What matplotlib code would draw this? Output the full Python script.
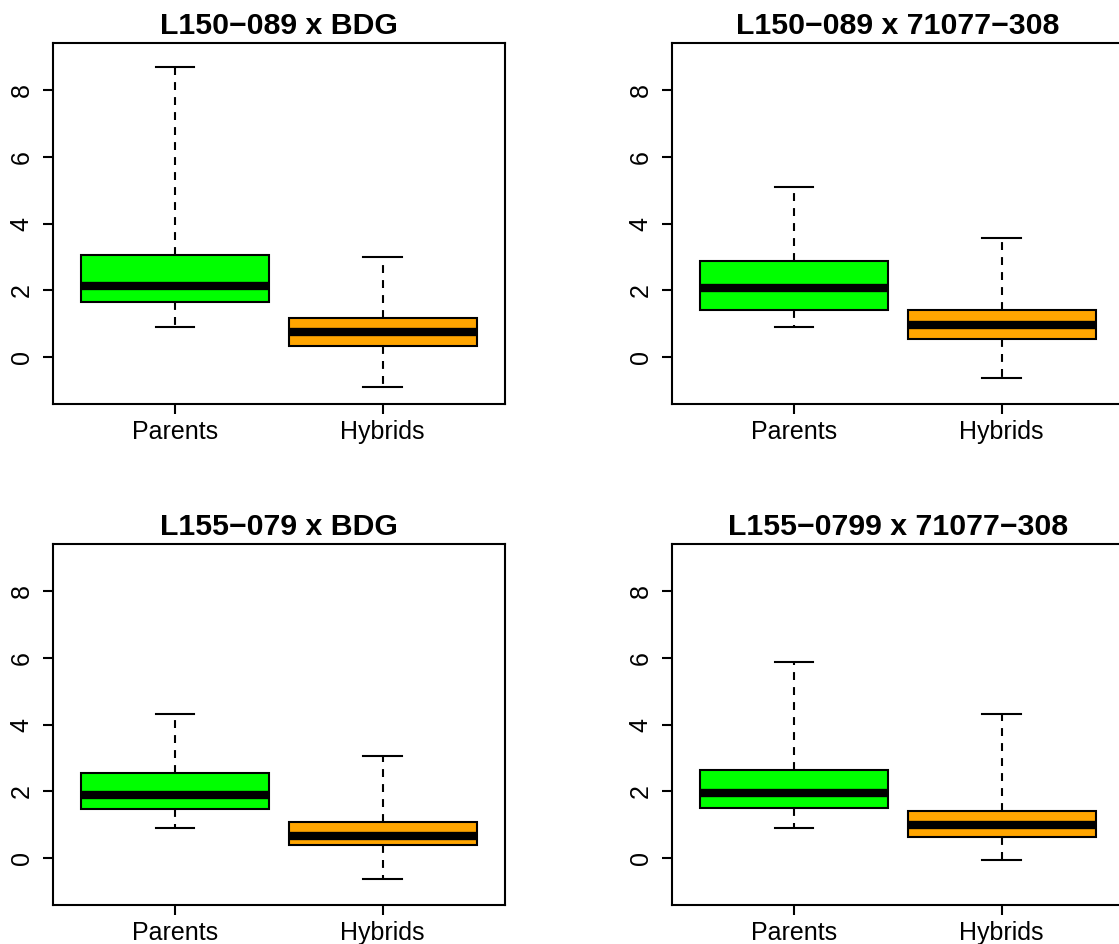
import matplotlib
matplotlib.use("Agg")
import matplotlib.pyplot as plt

plt.rcParams['font.family'] = ['Liberation Sans', 'DejaVu Sans']

# Panel titles (crosses)
titles = ["L150\u2212089 x BDG", "L150\u2212089 x 71077\u2212308",
          "L155\u2212079 x BDG", "L155\u22120799 x 71077\u2212308"]
groups = ["Parents", "Hybrids"]
colors = ["#00FF00", "#FFA500"]

# Five-number summaries per panel: [Parents, Hybrids]
whislo = [[0.91, -0.91], [0.89, -0.63], [0.90, -0.64], [0.90, -0.06]]
q1     = [[1.64, 0.33], [1.40, 0.55], [1.46, 0.39], [1.51, 0.62]]
med    = [[2.14, 0.76], [2.07, 0.97], [1.90, 0.66], [1.96, 0.99]]
q3     = [[3.06, 1.17], [2.89, 1.40], [2.56, 1.08], [2.63, 1.41]]
whishi = [[8.69, 3.00], [5.10, 3.57], [4.32, 3.07], [5.86, 4.32]]

W, H = 1119, 944
fig = plt.figure(figsize=(W / 100, H / 100), dpi=100)

ax_w, ax_h = 451.7, 360.5
lefts = [53.3, 672.3]
tops = [43.3, 544.3]

lw = 1.5
for i in range(4):
    r, c = divmod(i, 2)
    left = lefts[c]
    top = tops[r]
    ax = fig.add_axes([left / W, 1 - (top + ax_h) / H, ax_w / W, ax_h / H])
    stats = []
    for j in range(2):
        stats.append(dict(whislo=whislo[i][j], q1=q1[i][j], med=med[i][j],
                          q3=q3[i][j], whishi=whishi[i][j], fliers=[],
                          label=groups[j]))
    bp = ax.bxp(stats, positions=[1, 2], widths=0.905, patch_artist=True,
                showfliers=False,
                boxprops=dict(linewidth=lw, edgecolor="black"),
                medianprops=dict(color="black", linewidth=6, solid_capstyle="butt"),
                whiskerprops=dict(color="black", linewidth=lw, linestyle=(0, (3.8, 3.4))),
                capprops=dict(color="black", linewidth=lw),
                capwidths=0.185)
    for patch, col in zip(bp["boxes"], colors):
        patch.set_facecolor(col)
    ax.set_xlim(0.414, 2.589)
    ax.set_ylim(-1.4, 9.4)
    ax.set_yticks([0, 2, 4, 6, 8])
    ax.set_xticks([1, 2])
    ax.set_xticklabels(groups)
    ax.tick_params(axis="both", labelsize=18, length=7, width=lw, color="black")
    ax.tick_params(axis="y", pad=7)
    ax.tick_params(axis="x", pad=5)
    for lab in ax.get_yticklabels():
        lab.set_rotation(90)
        lab.set_va("center")
    for sp in ax.spines.values():
        sp.set_linewidth(lw)
        sp.set_color("black")
    ax.set_title(titles[i], fontsize=21.8, fontweight="bold", pad=6.5)

fig.savefig("out.png", dpi=100)
